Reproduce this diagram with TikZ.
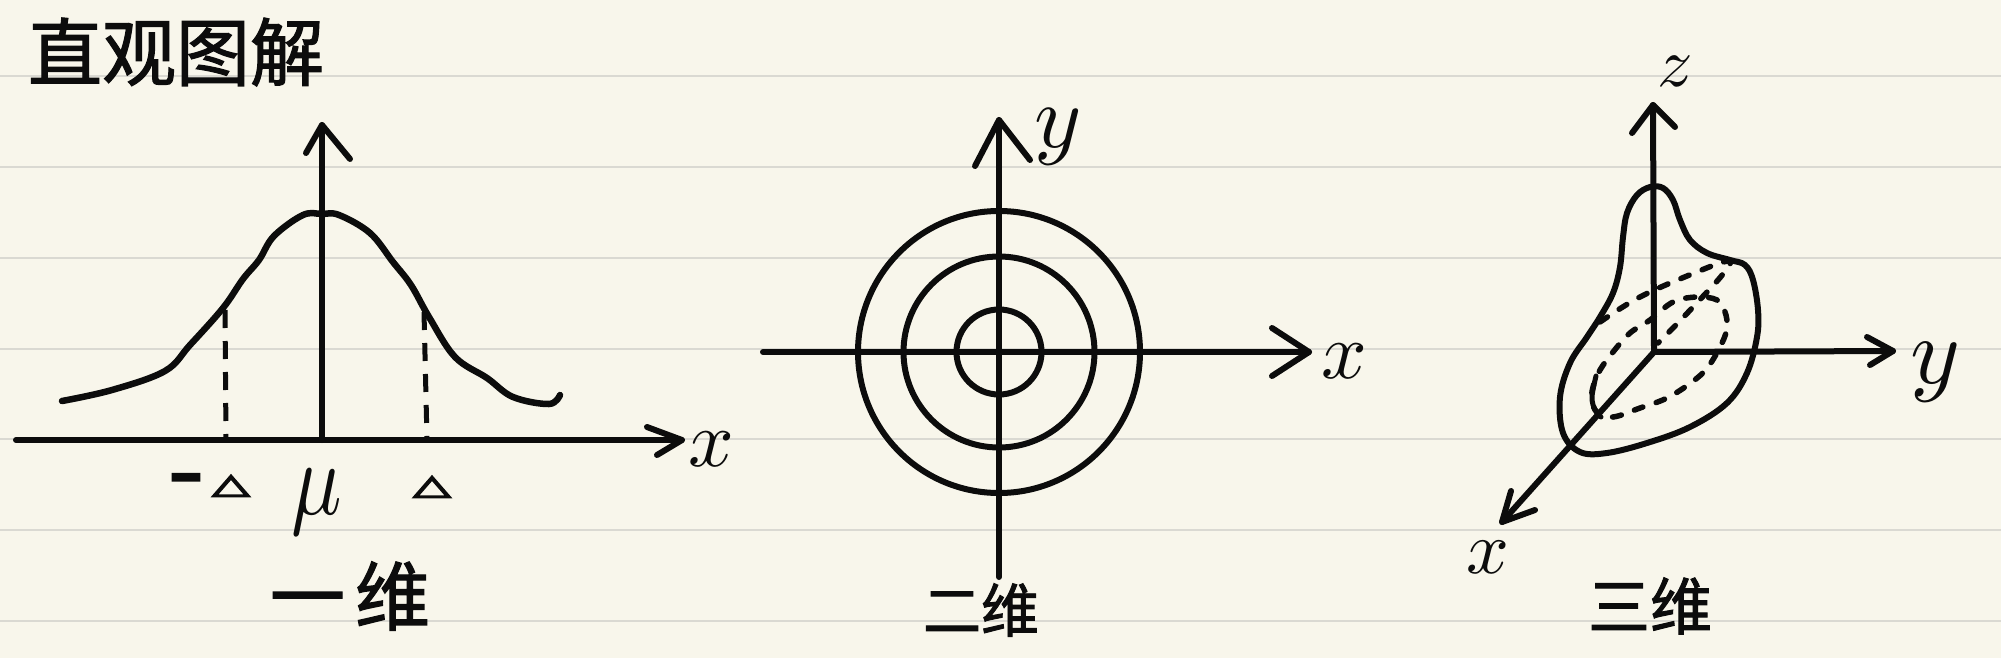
\documentclass[tikz,border=0pt]{standalone}
\usepackage{fontspec}
\usepackage{unicode-math}
\setmathfont{Latin Modern Math}
\newfontfamily\cjk{Noto Sans CJK SC}[FakeBold=1.6]
\newfontfamily\dejavu{DejaVu Sans}[FakeBold=5]
\definecolor{paper}{RGB}{248,246,235}
\definecolor{rulec}{RGB}{218,217,210}
\definecolor{inkc}{RGB}{12,12,12}
\tikzset{
  pen/.style={draw=inkc,line width=6pt,line cap=round,line join=round},
  dashpen/.style={draw=inkc,line width=5pt,dash pattern=on 18pt off 13pt},
  dotpen/.style={draw=inkc,line width=5.5pt,line cap=round,dash pattern=on 9pt off 14pt},
  hanzi/.style={inner sep=0pt,text=inkc,font=\cjk},
  sym/.style={inner sep=0pt,text=inkc},
  ruling/.style={draw=rulec,line width=2pt}
}
\begin{document}
\begin{tikzpicture}[x=1pt,y=-1pt]
% paper
\fill[paper] (0,0) rectangle (2001,658);
\useasboundingbox (0,0) rectangle (2001,658);
\foreach \yy in {75.8,166.7,257.6,348.5,439.4,530.3,621.2}
  \draw[ruling] (0,\yy) -- (2001,\yy);

% title
\node[hanzi,font=\cjk\fontsize{74}{74}\selectfont] (title) at (176,52) {直观图解};

% ---------- panel 1 : one dimension ----------
\coordinate (o1) at (322,440);
\coordinate (ytip1) at (322,125);
\coordinate (xs1) at (16,440);
\coordinate (xtip1) at (682,440);
\draw[pen] (xs1) -- (xtip1);
\draw[pen] (o1) -- (ytip1);
\draw[pen] (306,153) -- (ytip1) -- (350,159);
\draw[pen] (647,427) -- (xtip1) -- (657,455);
\draw[pen,line width=6.5pt] plot[smooth,tension=0.6] coordinates {
  (62,401) (112,390) (165,371) (190,345) (223,308) (243,279) (259,260)
  (274,236) (303,215) (322,214) (339,215) (370,233) (393,262) (411,285)
  (429,317) (455,357) (487,378) (513,397) (549,404) (560,395)};
\coordinate (dlt) at (225,310);
\coordinate (dlb) at (226,440);
\coordinate (drt) at (424,312);
\coordinate (drb) at (427,440);
\draw[dashpen] (dlt) -- (dlb);
\draw[dashpen] (drt) -- (drb);
\node[sym,font=\fontsize{80}{80}\selectfont] (x1) at (711,449) {$x$};
\node[sym,font=\dejavu\fontsize{50}{50}\selectfont] (minus) at (186,486) {\scalebox{0.85}[1.3]{−}};
\node[sym,font=\dejavu\fontsize{46}{46}\selectfont] (tl) at (231,486) {\scalebox{1.05}[0.6]{△}};
\node[sym,font=\dejavu\fontsize{46}{46}\selectfont] (tr) at (432,487) {\scalebox{1.05}[0.6]{△}};
\node[sym,font=\fontsize{105}{105}\selectfont] (mu) at (317,503) {\scalebox{0.8}[1]{$\mu$}};
\node[hanzi,font=\cjk\fontsize{75}{75}\selectfont] (d1) at (350,596) {一\hspace{10pt}维};

% ---------- panel 2 : two dimensions ----------
\coordinate (o2) at (999,352);
\coordinate (ytip2) at (999,120);
\coordinate (yb2) at (999,577);
\coordinate (xl2) at (763,352);
\coordinate (xtip2) at (1309,352);
\draw[pen] (xl2) -- (xtip2);
\draw[pen] (yb2) -- (ytip2);
\draw[pen] (975,166) -- (ytip2) -- (1030,160);
\draw[pen] (1272,328) -- (xtip2) -- (1272,376);
\draw[pen] (o2) circle[radius=141pt];
\draw[pen] (o2) circle[radius=95.5pt];
\draw[pen] (o2) circle[radius=42.5pt];
\node[sym,font=\fontsize{90}{90}\selectfont] (y2) at (1058,137) {$y$};
\node[sym,font=\fontsize{80}{80}\selectfont] (x2) at (1344,361) {$x$};
\node[hanzi,font=\cjk\fontsize{58}{58}\selectfont] (d2) at (981,610) {二维};

% ---------- panel 3 : three dimensions ----------
\coordinate (o3) at (1654,352);
\coordinate (ztip3) at (1653,105);
\coordinate (ytip3) at (1893,351);
\coordinate (xtip3) at (1502,522);
\draw[pen] (o3) -- (ztip3);
\draw[pen] (o3) -- (ytip3);
\draw[pen] (o3) -- (xtip3);
\draw[pen] (1632,133) -- (ztip3) -- (1675,127);
\draw[pen] (1867,337) -- (ytip3) -- (1870,365);
\draw[pen] (1511,491) -- (xtip3) -- (1535,510);
\draw[pen] plot[smooth cycle,tension=0.6] coordinates {
  (1650,187) (1637,195) (1627,213) (1623,237) (1620,267) (1613,293)
  (1600,317) (1587,337) (1570,363) (1560,397) (1563,433) (1580,452)
  (1607,453) (1647,443) (1690,427) (1727,403) (1747,373) (1757,337)
  (1758,310) (1753,280) (1745,265) (1730,260) (1707,253) (1690,240)
  (1680,220) (1673,200) (1663,188)};
\draw[dotpen] plot[smooth,tension=0.6] coordinates {
  (1600,322) (1638,298) (1687,276) (1728,261) (1723,274) (1693,307)
  (1673,328) (1658,343)};
\draw[dotpen] plot[smooth cycle,tension=0.6] coordinates {
  (1600,370) (1613,352) (1630,333) (1650,320) (1673,302) (1697,297)
  (1717,300) (1725,312) (1727,327) (1722,343) (1708,367) (1692,382)
  (1667,398) (1640,408) (1613,417) (1597,412) (1592,400) (1593,387)};
\draw[pen,line width=5pt] plot[smooth,tension=0.6] coordinates {
  (1596,376) (1592,397) (1595,410) (1601,417)};
\node[sym,font=\fontsize{70}{70}\selectfont] (z3) at (1675,71) {$z$};
\node[sym,font=\fontsize{95}{95}\selectfont] (y3) at (1935,372) {$y$};
\node[sym,font=\fontsize{75}{75}\selectfont] (x3) at (1488,557) {$x$};
\node[hanzi,font=\cjk\fontsize{62}{62}\selectfont] (d3) at (1650,606) {三维};
\end{tikzpicture}
\end{document}
